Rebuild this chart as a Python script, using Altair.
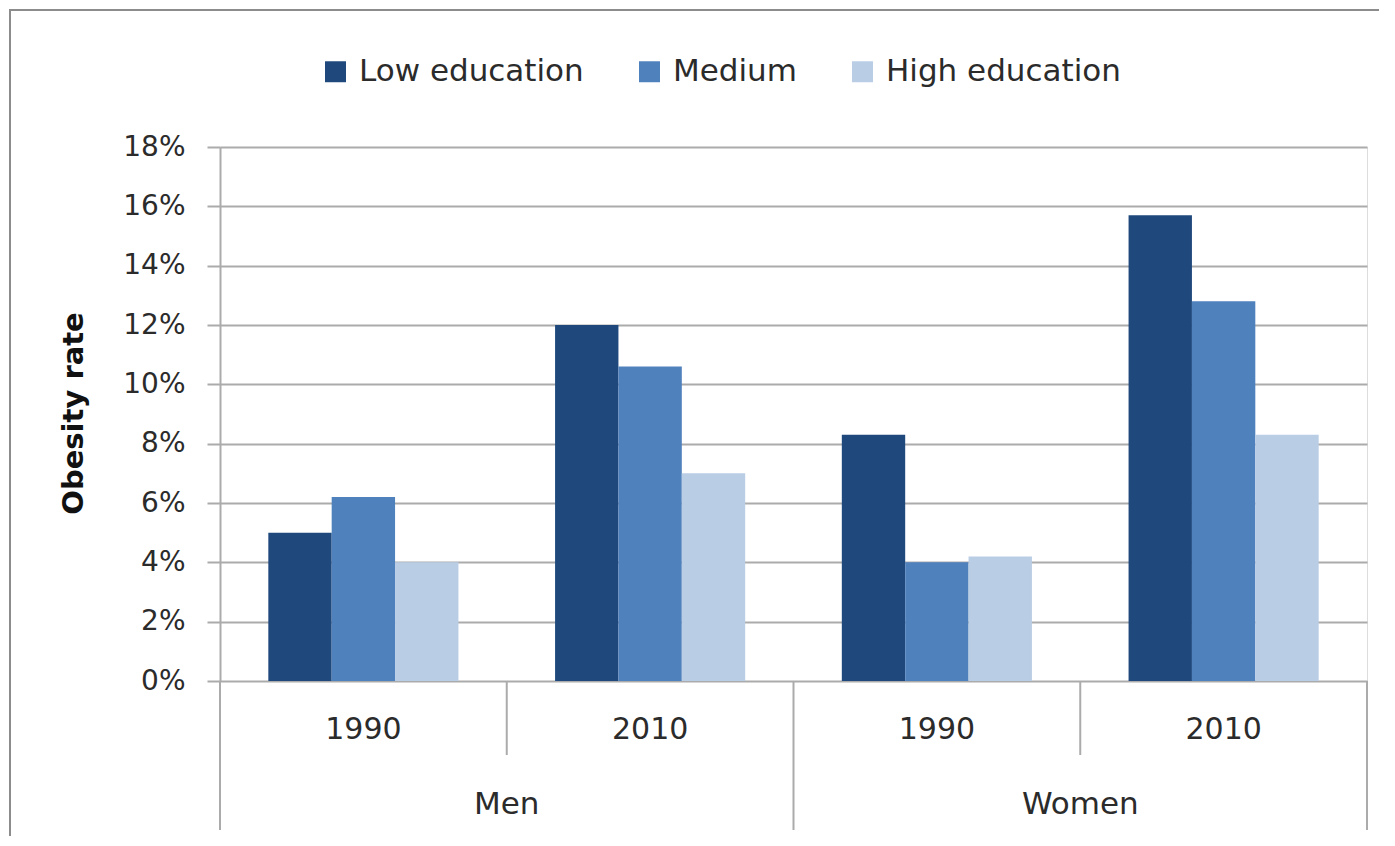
import altair as alt
import pandas as pd

# ---- data ----
groups = ["Men", "Men", "Women", "Women"]
years = ["1990", "2010", "1990", "2010"]
education = ["Low education", "Medium", "High education"]
low_vals = [0.050, 0.120, 0.083, 0.157]
med_vals = [0.062, 0.106, 0.040, 0.128]
high_vals = [0.040, 0.070, 0.042, 0.083]
colors = ["#1F497D", "#4F81BD", "#B9CDE5"]

cats = [f"{g} {y}" for g, y in zip(groups, years)]
rows = []
for i, c in enumerate(cats):
    for e, vals in zip(education, [low_vals, med_vals, high_vals]):
        rows.append({"cat": c, "edu": e, "value": vals[i]})
bars_df = pd.DataFrame(rows)

year_df = pd.DataFrame({"pos": [i + 0.5 for i in range(len(cats))], "label": years})
group_names = ["Men", "Women"]
group_df = pd.DataFrame({
    "pos": [sum(i + 0.5 for i, g in enumerate(groups) if g == gn) / groups.count(gn) for gn in group_names],
    "label": group_names,
})
sep_df = pd.DataFrame({"pos": list(range(len(cats) + 1))})
sep_df["long"] = [p % 2 == 0 for p in sep_df["pos"]]

W, H = 1147, 534
FONT = "DejaVu Sans"
TXT = "#2b2b2b"
GRID = "#ababab"

pos_scale = alt.Scale(domain=[0, len(cats)], nice=False, zero=False)

bars = alt.Chart(bars_df).mark_bar(stroke=None).encode(
    x=alt.X("cat:N", sort=cats, axis=None,
            scale=alt.Scale(domain=cats, paddingInner=0.337, paddingOuter=0.1685)),
    xOffset=alt.XOffset("edu:N", sort=education,
                        scale=alt.Scale(domain=education, paddingInner=0, paddingOuter=0)),
    y=alt.Y("value:Q",
            scale=alt.Scale(domain=[0, 0.18], nice=False),
            axis=alt.Axis(format=".0%", values=[i / 100 for i in range(0, 19, 2)],
                          title="Obesity rate", titleFont=FONT, titleFontSize=29,
                          titleFontWeight="bold", titleColor="#111111",
                          titleAngle=270, titleX=-147, titleY=H / 2 - 1,
                          titleAlign="center", titleBaseline="middle",
                          labelFont=FONT, labelFontSize=28, labelColor=TXT,
                          labelPadding=22, tickSize=13, tickColor=GRID, tickWidth=2,
                          domainColor=GRID, domainWidth=2,
                          grid=True, gridColor=GRID, gridWidth=2)),
    color=alt.Color("edu:N", sort=education,
                    scale=alt.Scale(domain=education, range=colors),
                    legend=alt.Legend(title=None, orient="none", direction="horizontal",
                                      legendX=100, legendY=-91,
                                      symbolType="square", symbolSize=440,
                                      symbolStrokeWidth=0, labelFont=FONT,
                                      labelFontSize=31, labelColor=TXT, labelLimit=0,
                                      labelOffset=8, columnPadding=50)),
)

sep_long = alt.Chart(sep_df).transform_filter("datum.long").mark_rule(
    color=GRID, strokeWidth=2).encode(
    x=alt.X("pos:Q", scale=pos_scale, axis=None),
    y=alt.value(H), y2=alt.value(H + 149))

sep_short = alt.Chart(sep_df).transform_filter("!datum.long").mark_rule(
    color=GRID, strokeWidth=2).encode(
    x=alt.X("pos:Q", scale=pos_scale, axis=None),
    y=alt.value(H), y2=alt.value(H + 74))

year_text = alt.Chart(year_df).mark_text(
    font=FONT, fontSize=30, color=TXT, baseline="middle").encode(
    x=alt.X("pos:Q", scale=pos_scale, axis=None),
    y=alt.value(H + 49), text="label:N")

group_text = alt.Chart(group_df).mark_text(
    font=FONT, fontSize=31, color=TXT, baseline="middle").encode(
    x=alt.X("pos:Q", scale=pos_scale, axis=None),
    y=alt.value(H + 124), text="label:N")

frame = alt.Chart(pd.DataFrame({"k": [0]})).mark_rect(
    fill=None, stroke="#8c8c8c", strokeWidth=2).encode(
    x=alt.value(-210), x2=alt.value(W + 200),
    y=alt.value(-137), y2=alt.value(H + 200))

chart = alt.layer(frame, bars, sep_long, sep_short, year_text, group_text).resolve_scale(
    x="independent", color="independent"
).properties(
    width=W, height=H,
    autosize=alt.AutoSizeParams(type="none"),
    padding={"left": 212, "top": 139, "right": 12, "bottom": 155},
).configure_view(stroke=None).configure(background="white")

chart.save("out.html", embed_options={"renderer": "svg", "actions": False})
